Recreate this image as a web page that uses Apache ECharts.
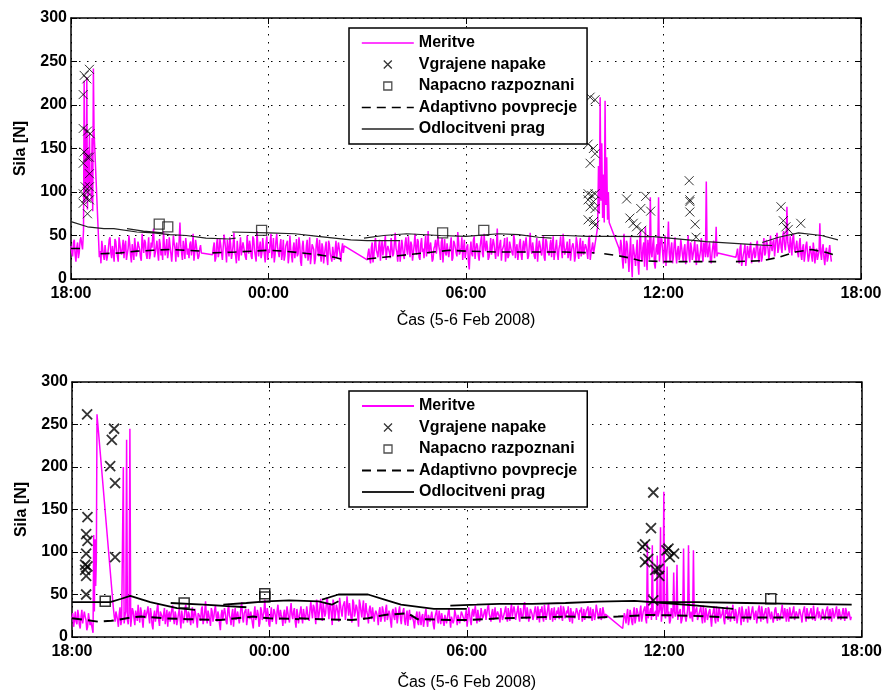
<!DOCTYPE html>
<html><head><meta charset="utf-8">
<script src="https://cdn.jsdelivr.net/npm/echarts@6/dist/echarts.min.js"></script>
<style>html,body{margin:0;padding:0;background:#fff}#c{width:885px;height:692px}</style>
</head><body><div id="c"></div>
<script>
// ---------- shared labels ----------
const hourTickLabels = ['18:00', '00:00', '06:00', '12:00', '18:00'];   // x ticks every 6 h from 18:00
const xAxisTitle = 'Čas (5-6 Feb 2008)';
const yAxisTitle = 'Sila [N]';
const seriesNames = ['Meritve', 'Vgrajene napake', 'Napacno razpoznani', 'Adaptivno povprecje', 'Odlocitveni prag'];

// ---------- TOP chart : measurements (hours after 18:00, force N) ----------
// each segment: [start hour, sample step in hours]; "b" arrays are the readings taken half a step later
const topSegTimes = [[0, 0.05], [0.38, 0.02], [0.86, 0.05], [4.3, 0.05], [9.0, 0.05], [16.0, 0.025], [16.65, 0.05], [20.2, 0.05]];
const topSeg1 = [38, 26, 45, 20, 42, 30, 48, 34];
const topSeg1b = [30, 42, 28, 36, 24, 44, 40];
const topSeg2 = [55, 228, 88, 172, 104, 232, 80, 148, 96, 168, 108, 122, 90, 162, 78, 242, 170];
const topSeg3 = [25, 18, 36, 22, 41, 27, 45, 30, 38, 20, 43, 26, 48, 31, 36, 24, 44, 29, 50, 27, 40, 22, 46, 33, 38, 25, 52, 30, 42, 23, 48, 28, 36, 58, 30, 44, 21, 40, 34, 55, 27, 46, 31, 38, 20, 50, 35, 42, 25, 65, 30, 44, 23, 48, 35, 40, 27, 52, 31, 38, 23, 35, 30];
const topSeg3b = [32, 44, 27, 39, 21, 35, 48, 24, 30, 46, 33, 20, 41, 28, 45, 38, 22, 35, 40, 19, 31, 47, 26, 43, 34, 21, 39, 45, 29, 36, 23, 42, 50, 25, 37, 30, 46, 27, 22, 40, 35, 24, 48, 29, 33, 41, 20, 31, 44, 38, 22, 35, 47, 28, 24, 43, 36, 21, 45, 30, 26, 39];
const topSeg4 = [28, 42, 24, 47, 31, 39, 22, 51, 33, 45, 26, 40, 30, 53, 27, 44, 21, 48, 35, 41, 25, 50, 29, 38, 23, 46, 32, 55, 26, 43, 30, 37, 19, 49, 34, 42, 24, 47, 28, 52, 31, 39, 22, 45, 27, 41, 18, 50, 33, 36, 24, 46, 29, 40, 15, 44, 30, 38, 21, 48, 26, 42, 17, 39, 32, 45, 20, 36, 28, 43, 16, 40, 25, 37, 22, 44, 27, 35, 20, 41, 38];
const topSeg4b = [36, 20, 41, 25, 46, 29, 37, 43, 19, 34, 48, 23, 39, 31, 18, 45, 35, 27, 42, 30, 22, 38, 44, 26, 49, 33, 20, 40, 36, 24, 47, 28, 41, 22, 30, 52, 34, 19, 43, 37, 25, 46, 30, 21, 38, 44, 27, 35, 19, 42, 33, 26, 48, 20, 37, 31, 24, 45, 29, 17, 40, 34, 23, 47, 26, 30, 41, 18, 36, 24, 44, 29, 20, 39, 33, 25, 42, 28, 34, 30];
const topSeg5 = [22, 35, 18, 42, 26, 47, 30, 38, 21, 44, 28, 50, 33, 40, 24, 46, 29, 53, 31, 37, 20, 45, 27, 41, 34, 49, 25, 39, 30, 52, 28, 43, 22, 47, 35, 40, 26, 55, 31, 44, 23, 38, 29, 50, 32, 42, 19, 46, 27, 39, 33, 48, 24, 41, 30, 54, 28, 36, 22, 45, 31, 40, 11, 43, 26, 49, 34, 38, 21, 44, 29, 52, 32, 37, 25, 47, 30, 41, 23, 58, 28, 45, 33, 39, 20, 48, 27, 42, 35, 51, 24, 40, 30, 46, 22, 44, 31, 37, 26, 53, 29, 41, 23, 47, 34, 39, 27, 50, 21, 43, 32, 38, 25, 49, 30, 45, 22, 40, 33, 52, 28, 36, 24, 46, 31, 41, 20, 48, 29, 39, 26, 44, 34, 37, 23, 50, 30, 42, 27];
const topSeg5b = [30, 24, 36, 19, 40, 33, 25, 45, 35, 27, 41, 22, 38, 30, 47, 26, 42, 35, 20, 44, 32, 37, 23, 48, 28, 36, 43, 21, 39, 34, 46, 25, 40, 31, 24, 50, 36, 29, 42, 20, 35, 45, 27, 38, 22, 47, 33, 30, 41, 25, 39, 21, 44, 36, 26, 43, 31, 48, 35, 24, 37, 20, 33, 29, 45, 23, 41, 27, 36, 50, 25, 39, 44, 22, 34, 28, 46, 32, 38, 26, 40, 21, 36, 47, 30, 24, 43, 33, 27, 45, 35, 22, 41, 28, 37, 30, 48, 23, 39, 34, 42, 26, 36, 20, 44, 31, 38, 25, 46, 33, 27, 45, 40, 22, 37, 29, 35, 49, 24, 41, 32, 43, 30, 21, 38, 35, 26, 42, 23, 47, 33, 28, 40, 31, 45, 22, 36, 29];
const topSeg6 = [60, 130, 75, 209, 90, 156, 70, 120, 65, 205, 85, 140, 68, 100, 65];
const topSeg7 = [35, 45, 22, 52, 18, 40, 8, 48, 2, 38, 15, 45, 5, 55, 20, 42, 60, 10, 35, 94, 25, 48, 12, 40, 94, 22, 45, 18, 50, 28, 66, 20, 42, 25, 48, 18, 38, 27, 45, 20, 40, 24, 50, 19, 36, 28, 44, 16, 38, 26, 47, 20, 35, 112, 25, 42, 18, 38, 24, 60, 30];
const topSeg7b = [28, 38, 12, 30, 44, 25, 30, 20, 40, 26, 33, 18, 42, 25, 36, 14, 30, 45, 22, 30, 40, 17, 35, 28, 20, 48, 30, 38, 15, 42, 30, 35, 18, 40, 28, 33, 22, 46, 28, 35, 17, 38, 28, 42, 22, 35, 25, 40, 20, 33, 28, 42, 25, 30, 36, 22, 30, 44, 33, 26];
const topSeg8 = [25, 35, 18, 40, 22, 33, 15, 38, 24, 42, 20, 36, 27, 44, 19, 38, 25, 47, 30, 41, 23, 50, 32, 45, 28, 53, 35, 48, 30, 55, 33, 83, 36, 49, 27, 52, 31, 44, 25, 47, 22, 40, 28, 43, 20, 38, 26, 42, 18, 35, 24, 64, 22, 40, 16, 36, 25, 39, 20];
const topSeg8b = [30, 22, 36, 15, 28, 40, 24, 30, 36, 18, 32, 24, 40, 28, 34, 20, 38, 27, 45, 35, 30, 38, 42, 26, 48, 30, 44, 36, 50, 40, 45, 42, 30, 40, 46, 35, 38, 30, 40, 28, 36, 20, 38, 30, 26, 33, 20, 32, 28, 22, 32, 30, 35, 24, 30, 20, 32, 28];

// top: adaptive average, segments of [hour, value]
const topAvgSegs = [
  [[0, 35], [0.4, 35]],
  [[0.9, 29], [1.5, 30], [2, 32], [2.5, 33], [3, 34], [3.5, 33], [4, 32]],
  [[4.3, 30], [5, 31], [5.5, 32], [6, 33], [6.5, 32], [7, 30], [7.5, 28], [8, 25], [8.3, 22]],
  [[9.0, 23], [9.5, 25], [10, 27], [10.5, 29], [11, 31], [11.5, 33], [12, 32], [13, 31], [14, 31], [15, 31], [15.9, 30]],
  [[16.2, 29], [16.6, 27], [17.0, 24], [17.3, 21], [18, 20], [19, 20], [19.6, 20]],
  [[20.2, 20], [21, 21], [21.5, 25], [22, 31], [22.5, 34], [23, 30], [23.3, 26]]
];
// top: decision threshold
const topThrSegs = [
  [[0, 66], [0.5, 60], [1.0, 58], [1.3, 58], [2, 54], [2.5, 53], [3, 51], [3.5, 50], [4.1, 47], [4.8, 46], [5.0, 47]],
  [[1.7, 58], [2.2, 55], [2.8, 53]],
  [[4.9, 54], [6, 53], [6.8, 52], [7.5, 49], [8.5, 45], [9.0, 44], [10.0, 44]],
  [[8.9, 47], [9.5, 50], [10.2, 52], [11.2, 50], [12, 49], [13, 52], [13.6, 51], [14.2, 48], [14.6, 47]],
  [[14.3, 50], [15, 50], [15.7, 49], [16.5, 49], [17.7, 48.6], [19.3, 43], [21, 39], [21.3, 38.5]],
  [[21.0, 42], [21.5, 48], [22.1, 53], [22.8, 50], [23.3, 45]]
];
// top: injected faults (x) and false detections (squares)
const topFaults = [[0.40, 234], [0.56, 241], [0.48, 230], [0.37, 212], [0.37, 173], [0.50, 170], [0.58, 167], [0.40, 146], [0.50, 140], [0.56, 140], [0.37, 133], [0.56, 121], [0.43, 106], [0.56, 106], [0.37, 98], [0.50, 100], [0.46, 93], [0.56, 91], [0.37, 87], [0.50, 75],
  [15.77, 209], [15.92, 206], [15.71, 155], [15.87, 150], [15.92, 144], [15.77, 133], [15.71, 98], [15.82, 96], [15.92, 98], [15.71, 91], [15.87, 89], [15.77, 83], [15.92, 81], [15.71, 68], [15.87, 66], [15.92, 62],
  [16.88, 92], [16.98, 70], [17.08, 64], [17.18, 60], [17.34, 56], [17.46, 95], [17.31, 81], [17.61, 78],
  [18.78, 113], [18.80, 91], [18.80, 89], [18.80, 77], [18.96, 63], [18.99, 48],
  [21.57, 83], [21.64, 67], [21.72, 60], [21.79, 57], [22.17, 64]];
const topFalse = [[2.68, 63], [2.94, 60], [5.79, 56], [11.29, 53], [12.54, 56]];

// ---------- BOTTOM chart ----------
const botSegTimes = [[0, 0.05], [0.64, 0.02], [1.26, 0.05], [16.74, 0.05]];
const botSeg1 = [22, 12, 30, 15, 26, 10, 32, 18, 24, 8, 28, 14, 20];
const botSeg1b = [28, 20, 18, 32, 14, 24, 16, 30, 20, 12, 26, 18];
const botSeg2 = [5, 120, 30, 115, 60, 90, 262];
const botSeg3 = [33, 18, 28, 12, 35, 20, 200, 25, 232, 15, 245, 22, 30, 14, 26, 38, 17, 29, 11, 32,
  21, 36, 16, 27, 9, 31, 24, 40, 13, 28, 19, 34, 23, 12, 30, 26, 37, 15, 25, 20,
  33, 10, 29, 22, 38, 17, 27, 14, 35, 24, 31, 11, 28, 19, 36, 21, 42, 16, 26, 13,
  30, 23, 37, 18, 25, 8, 32, 20, 28, 15, 39, 22, 27, 12, 34, 19, 30, 24, 41, 17,
  26, 14, 33, 21, 29, 10, 36, 23, 27, 16, 31, 25, 44, 18, 28, 12, 35, 22, 30, 15,
  38, 20, 26, 13, 32, 24, 29, 17, 40, 21, 34, 11, 27, 23, 36, 16, 31, 25, 28, 19,
  42, 22, 35, 15, 38, 26, 45, 19, 33, 28, 47, 21, 37, 14, 40, 27, 34, 18, 44, 24,
  36, 20, 48, 25, 31, 17, 41, 29, 35, 12, 39, 23, 43, 26, 30, 16, 37, 21, 33, 27,
  28, 14, 35, 22, 31, 18, 38, 25, 27, 11, 33, 20, 29, 24, 36, 15, 30, 19, 26, 13,
  32, 21, 28, 10, 25, 17, 30, 14, 27, 19, 33, 12, 24, 16, 29, 9, 26, 20, 31, 15,
  23, 13, 28, 18, 34, 11, 25, 20, 30, 14, 27, 17, 32, 22, 26, 12, 35, 19, 29, 24,
  37, 16, 30, 21, 27, 25, 33, 18, 38, 23, 28, 20, 35, 26, 31, 17, 36, 22, 29, 24,
  34, 19, 39, 23, 30, 26, 37, 18, 32, 25, 41, 21, 28, 24, 35, 20, 31, 27, 36, 17,
  29, 23, 38, 20, 33, 26, 30, 18, 35, 24, 27, 21, 37, 19, 32, 25, 28, 22, 34, 16,
  31, 24, 36, 20, 29, 18, 33, 26, 30, 22, 35, 19, 28, 25, 32, 21, 34, 23, 30, 27];
const botSeg3b = [24, 30, 20, 27, 14, 18, 16, 30, 20, 28, 12, 34, 22, 31, 19, 25, 35, 20, 27, 22,
  30, 24, 34, 14, 25, 18, 33, 20, 30, 24, 27, 15, 32, 26, 18, 33, 22, 30, 14, 27,
  22, 31, 16, 34, 24, 30, 20, 29, 16, 33, 20, 28, 24, 33, 15, 30, 24, 31, 20, 34,
  18, 32, 24, 30, 15, 26, 21, 34, 18, 31, 25, 14, 33, 25, 20, 30, 16, 35, 22, 28,
  33, 22, 25, 30, 16, 28, 20, 32, 12, 35, 20, 30, 27, 34, 15, 26, 18, 33, 24, 31,
  26, 32, 22, 28, 16, 36, 22, 31, 26, 30, 18, 33, 16, 30, 24, 33, 20, 36, 22, 33,
  30, 38, 26, 44, 20, 35, 30, 40, 24, 42, 32, 40, 26, 44, 20, 38, 28, 46, 30, 36,
  42, 30, 36, 40, 22, 44, 24, 38, 26, 44, 30, 35, 20, 40, 26, 32, 28, 35, 18, 31,
  24, 30, 18, 36, 26, 33, 20, 31, 18, 30, 24, 35, 16, 31, 22, 27, 34, 14, 31, 25,
  20, 26, 18, 22, 30, 14, 22, 24, 12, 28, 20, 26, 18, 30, 14, 24, 32, 16, 23, 28,
  18, 26, 16, 29, 20, 24, 16, 32, 22, 26, 16, 30, 24, 18, 32, 22, 27, 14, 33, 30,
  24, 32, 18, 34, 22, 30, 20, 35, 27, 18, 33, 26, 22, 30, 24, 34, 20, 27, 36, 18,
  27, 32, 24, 36, 20, 31, 24, 34, 22, 38, 26, 35, 18, 33, 27, 24, 36, 20, 28, 33,
  36, 18, 30, 26, 40, 20, 34, 27, 20, 31, 35, 26, 24, 36, 22, 31, 36, 18, 27, 30,
  22, 34, 26, 32, 35, 24, 20, 31, 36, 27, 24, 33, 20, 38, 26, 29, 20, 35, 22];
const botSeg4 = [10, 28, 16, 33, 20, 26, 14, 35, 22, 30, 18, 37, 24, 29, 21, 110, 27, 34, 108, 23,
  31, 96, 25, 129, 28, 171, 22, 83, 30, 19, 36, 76, 24, 85, 27, 33, 20, 104, 29, 25,
  108, 22, 32, 102, 26, 35, 19, 30, 23, 37, 17, 28, 25, 33, 12, 29, 21, 36, 18, 31,
  24, 34, 15, 27, 20, 32, 26, 38, 19, 29, 23, 35, 14, 30, 22, 33, 17, 28, 25, 36,
  20, 31, 24, 37, 18, 29, 26, 34, 16, 32, 21, 28, 23, 35, 19, 30, 25, 38, 22, 27,
  33, 18, 29, 24, 36, 20, 31, 26, 35, 17, 28, 23, 34, 21, 30, 25, 37, 19, 29, 22,
  32, 26, 35, 20, 28, 24, 33, 18, 30, 25, 36, 21, 29, 23, 34, 19, 31, 26, 28, 24];
const botSeg4b = [20, 24, 26, 14, 32, 18, 28, 16, 34, 26, 30, 18, 30, 36, 16, 22, 30, 20, 24, 28,
  20, 24, 32, 18, 36, 26, 30, 24, 16, 34, 22, 30, 28, 20, 30, 16, 26, 30, 18, 33,
  26, 30, 18, 24, 32, 20, 28, 36, 16, 26, 34, 20, 30, 22, 26, 36, 16, 24, 34, 22,
  28, 20, 32, 36, 26, 18, 31, 24, 33, 16, 30, 24, 36, 18, 28, 24, 36, 20, 31, 26,
  28, 16, 33, 26, 36, 20, 30, 22, 35, 24, 30, 17, 32, 26, 28, 20, 32, 26, 34, 18,
  26, 35, 22, 31, 20, 30, 23, 33, 24, 28, 36, 18, 29, 26, 34, 20, 28, 24, 35, 30,
  20, 33, 24, 30, 36, 20, 26, 34, 22, 31, 24, 33, 20, 28, 26, 34, 22, 30, 20];
const botAvgSegs = [
  [[0, 22], [0.8, 18], [1.2, 19], [1.8, 23], [2.1, 24], [2.8, 22], [3.5, 21], [4.5, 20], [5.0, 22], [5.5, 24], [6, 22], [6.9, 21]],
  [[6.9, 22], [7.6, 21], [8.5, 20], [9.0, 22], [9.5, 26], [10.2, 28], [10.5, 21], [11.5, 20], [12.1, 20], [13, 22], [14, 23], [15, 24]],
  [[15, 24], [16.0, 23], [16.6, 24], [17.5, 26], [18.8, 25], [20, 23], [22, 23], [23.7, 23]]
];
const botThrSegs = [
  [[0, 41], [1.16, 41], [1.5, 45], [1.77, 48.5], [2.38, 41], [3.19, 34], [3.74, 32]],
  [[3.0, 40], [4.0, 38], [5.3, 35]],
  [[4.6, 38], [5.3, 40], [5.9, 42], [6.6, 43], [7.5, 42], [7.9, 38], [8.1, 42]],
  [[7.6, 44], [8.1, 50], [9.0, 50], [9.5, 44], [10.0, 38], [11.0, 33], [12.0, 33]],
  [[11.5, 37], [12.3, 38], [13, 39], [14, 39], [15, 40], [16, 41.6], [17.1, 42.5], [18, 40], [19, 37], [20.1, 33]],
  [[17.5, 41], [19, 41], [20.5, 40], [22, 39], [23.7, 38]]
];
const botFaults = [[0.46, 262], [0.47, 141], [0.43, 121], [0.47, 113], [0.43, 98], [0.40, 85], [0.47, 83], [0.40, 79], [0.43, 72], [0.43, 50],
  [1.28, 245], [1.21, 232], [1.16, 201], [1.31, 181], [1.31, 94],
  [17.67, 170], [17.60, 128], [17.34, 106], [17.42, 109], [17.52, 92], [17.42, 88], [17.73, 79], [17.83, 80], [17.85, 72], [18.07, 102], [18.17, 94], [18.30, 98], [18.13, 104], [17.67, 43]];
const botFalse = [[1.01, 42], [3.41, 40], [5.86, 51], [5.86, 47], [21.24, 45]];

// ---------- build ----------
function samples(times, segs, halfSegs) {
  const out = [];
  segs.forEach((vals, k) => {
    const t0 = times[k][0], dt = times[k][1];
    vals.forEach((v, i) => out.push([t0 + i * dt, v]));
    const hb = halfSegs[k];
    if (hb) hb.forEach((v, i) => out.push([t0 + (i + 0.5) * dt, v]));
  });
  out.sort((a, b) => a[0] - b[0]);
  return out;
}
function joinSegs(segs) {
  const out = [];
  segs.forEach((s, k) => { if (k) out.push([s[0][0], '-']); s.forEach(p => out.push(p)); });
  return out;
}
const FONT = 'Liberation Sans, Arial, Helvetica, sans-serif';
const X_PATH = 'path://M0,0L10,10M0,10L10,0';
const SQ_PATH = 'path://M0,0L10,0L10,10L0,10Z';

function axesFor(g, titleGap) {
  const tickFmt = v => hourTickLabels[Math.round(v / 6)];
  return {
    x: [
      { gridIndex: g, type: 'value', min: 0, max: 24, interval: 6, position: 'bottom',
        axisLine: { onZero: false, lineStyle: { color: '#000', width: 1.5 } },
        axisTick: { inside: true, length: 6, lineStyle: { color: '#000' } },
        axisLabel: { formatter: tickFmt, color: '#000', fontFamily: FONT, fontSize: 16, fontWeight: 'bold', margin: 7 },
        splitLine: { show: true, lineStyle: { color: '#000', width: 1, type: [1.5, 6.5] } },
        name: xAxisTitle, nameLocation: 'middle', nameGap: titleGap,
        nameTextStyle: { color: '#000', fontFamily: FONT, fontSize: 16 } },
      { gridIndex: g, type: 'value', min: 0, max: 24, interval: 6, position: 'top',
        axisLine: { onZero: false, lineStyle: { color: '#000', width: 1.5 } },
        axisTick: { inside: true, length: 6, lineStyle: { color: '#000' } },
        axisLabel: { show: false }, splitLine: { show: false } }
    ],
    y: [
      { gridIndex: g, type: 'value', min: 0, max: 300, interval: 50, position: 'left',
        axisLine: { show: true, onZero: false, lineStyle: { color: '#000', width: 1.5 } },
        axisTick: { show: true, inside: true, length: 6, lineStyle: { color: '#000' } },
        axisLabel: { color: '#000', fontFamily: FONT, fontSize: 16, fontWeight: 'bold', margin: 4 },
        splitLine: { show: true, lineStyle: { color: '#000', width: 1, type: [1.5, 6.5] } },
        name: yAxisTitle, nameLocation: 'middle', nameGap: 42,
        nameTextStyle: { color: '#000', fontFamily: FONT, fontSize: 16, fontWeight: 'bold' } },
      { gridIndex: g, type: 'value', min: 0, max: 300, interval: 50, position: 'right',
        axisLine: { show: true, onZero: false, lineStyle: { color: '#000', width: 1.5 } },
        axisTick: { show: true, inside: true, length: 6, lineStyle: { color: '#000' } },
        axisLabel: { show: false }, splitLine: { show: false } }
    ]
  };
}
const a0 = axesFor(0, 34), a1 = axesFor(1, 38);

function seriesFor(g, meas, avg, thr, faults, falses, heavy) {
  const xi = g * 2, yi = g * 2;
  return [
    { name: seriesNames[0], type: 'line', xAxisIndex: xi, yAxisIndex: yi, data: meas, showSymbol: false, symbol: 'none',
      lineStyle: { color: '#ff00ff', width: 1.5 }, itemStyle: { color: '#ff00ff' }, z: 2, silent: true },
    { name: seriesNames[1], type: 'scatter', xAxisIndex: xi, yAxisIndex: yi, data: faults, symbol: X_PATH, symbolSize: heavy ? 10 : 9,
      itemStyle: { color: 'transparent', borderColor: '#000', borderWidth: heavy ? 1.8 : 1 }, z: 3, silent: true },
    { name: seriesNames[2], type: 'scatter', xAxisIndex: xi, yAxisIndex: yi, data: falses, symbol: SQ_PATH, symbolSize: 10,
      itemStyle: { color: 'transparent', borderColor: heavy ? '#000' : '#222', borderWidth: heavy ? 1.5 : 1.3 }, z: 3, silent: true },
    { name: seriesNames[3], type: 'line', xAxisIndex: xi, yAxisIndex: yi, data: avg, showSymbol: false, symbol: 'none',
      lineStyle: { color: '#000', width: heavy ? 2 : 1.6, type: heavy ? [10, 6] : [9, 6] }, itemStyle: { color: '#000' }, z: 4, silent: true },
    { name: seriesNames[4], type: 'line', xAxisIndex: xi, yAxisIndex: yi, data: thr, showSymbol: false, symbol: 'none',
      lineStyle: { color: heavy ? '#000' : '#222', width: heavy ? 1.8 : 1.2 }, itemStyle: { color: '#000' }, z: 4, silent: true }
  ];
}

function legendFor(top, w) {
  return {
    orient: 'vertical', left: 349, top: top, itemWidth: 52, itemHeight: 8, itemGap: 5.5,
    padding: [7, 10, 7, 12], borderColor: '#000', borderWidth: 1.5, backgroundColor: '#fff',
    selectedMode: false, z: 10,
    textStyle: { color: '#000', fontFamily: FONT, fontSize: 16, fontWeight: 'bold' },
    data: [
      { name: seriesNames[0], itemStyle: { opacity: 0 }, lineStyle: { width: w } },
      { name: seriesNames[1], itemStyle: { borderWidth: 1.3 } },
      { name: seriesNames[2], itemStyle: { borderWidth: 1.3 } },
      { name: seriesNames[3], itemStyle: { opacity: 0 }, lineStyle: { width: w } },
      { name: seriesNames[4], itemStyle: { opacity: 0 }, lineStyle: { width: w } }
    ]
  };
}

const topMeas = samples(topSegTimes,
  [topSeg1, topSeg2, topSeg3, topSeg4, topSeg5, topSeg6, topSeg7, topSeg8],
  [topSeg1b, null, topSeg3b, topSeg4b, topSeg5b, null, topSeg7b, topSeg8b]);
const botMeas = samples(botSegTimes, [botSeg1, botSeg2, botSeg3, botSeg4], [botSeg1b, null, botSeg3b, botSeg4b]);

const chart = echarts.init(document.getElementById('c'), null, { renderer: 'canvas' });
chart.setOption({
  animation: false,
  backgroundColor: '#fff',
  grid: [
    { left: 71, top: 18, width: 790, height: 261 },
    { left: 72, top: 382, width: 791, height: 260 }
  ],
  xAxis: [...a0.x, ...a1.x],
  yAxis: [...a0.y, ...a1.y],
  legend: [legendFor(28, 1.6), legendFor(391, 2)],
  series: [
    ...seriesFor(0, topMeas, joinSegs(topAvgSegs), joinSegs(topThrSegs), topFaults, topFalse, false),
    ...seriesFor(1, botMeas, joinSegs(botAvgSegs), joinSegs(botThrSegs), botFaults, botFalse, true)
  ]
});
</script></body></html>
